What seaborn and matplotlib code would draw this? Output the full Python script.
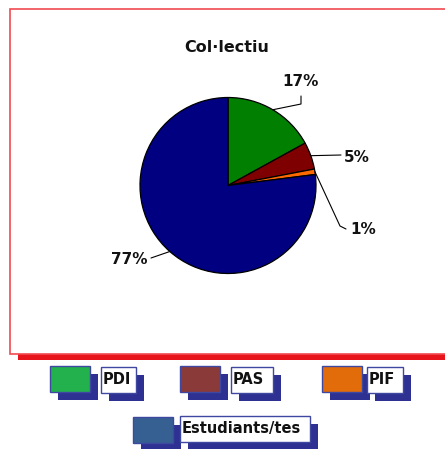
import numpy as np
import matplotlib
matplotlib.use('Agg')
import matplotlib.pyplot as plt
import seaborn as sns
from matplotlib.patches import Rectangle

sns.set_theme(style='white')
plt.rcParams['font.family'] = ['DejaVu Sans']

# data
categories = ['PDI', 'PAS', 'PIF', 'Estudiants/tes']
values = [17, 5, 1, 77]
pie_colors = ['#007f00', '#7f0000', '#ff6a00', '#000080']
legend_colors = ['#22b14c', '#8b3a3a', '#e36c0a', '#366092']
title = 'Col\u00b7lectiu'

W, H = 445, 449
fig = plt.figure(figsize=(W / 100, H / 100), dpi=100)
ax = fig.add_axes([0, 0, 1, 1])

def Y(y):
    # top-down pixel -> axes coords
    return H - y

# frame with red shadow
ax.add_patch(Rectangle((18, Y(360)), 440, 344, facecolor='#e8141b', edgecolor='none', zorder=0))
ax.add_patch(Rectangle((10, Y(354)), 440, 345, facecolor='white', edgecolor='#f04a50', lw=1.2, zorder=1))

# pie
cx, cy, r = 228, 185.5, 88
wedges, _ = ax.pie(values, colors=pie_colors, startangle=90, counterclock=False,
                   center=(cx, Y(cy)), radius=r, frame=True,
                   wedgeprops=dict(edgecolor='black', linewidth=0.9, zorder=2))
ax.set_xlim(0, W)
ax.set_ylim(0, H)
ax.set_aspect('equal')
ax.axis('off')

ax.text(227, Y(47), title, ha='center', va='center', fontsize=11.5, fontweight='bold', color='#111111', zorder=3)

# labels with leader lines (layout: text position, elbow)
label_txt = ['%d%%' % v for v in values]
text_pos = [(301, 82), (357, 157), (363, 230), (129, 259)]
elbows = [[(301, 104), (301, 96)], [(341, 155)], [(340, 226), (346, 229)], [(151, 258)]]
for w, t, tp, el in zip(wedges, label_txt, text_pos, elbows):
    a = np.deg2rad((w.theta1 + w.theta2) / 2)
    x0, y0 = cx + r * np.cos(a), cy - r * np.sin(a)
    pts = [(x0, y0)] + el
    ax.plot([p[0] for p in pts], [Y(p[1]) for p in pts], color='black', lw=0.8, zorder=3)
    ax.text(tp[0], Y(tp[1]), t, ha='center', va='center', fontsize=11, fontweight='bold', color='#111111', zorder=3)

# legend (layout in pixels)
shadow = '#2e3192'
sw_pos = [(50, 366), (180, 366), (322, 366), (133, 417)]
lb_pos = [(101, 367, 35), (231, 367, 42), (367, 367, 36), (180, 416, 130)]
for c, name, (sx, sy), (lx, ly, lw_) in zip(legend_colors, categories, sw_pos, lb_pos):
    ax.add_patch(Rectangle((sx + 8, Y(sy + 34)), 40, 26, facecolor=shadow, edgecolor='none', zorder=2))
    ax.add_patch(Rectangle((sx, Y(sy + 26)), 40, 26, facecolor=c, edgecolor='#3f48a0', lw=1, zorder=3))
    ax.add_patch(Rectangle((lx + 8, Y(ly + 34)), lw_, 26, facecolor=shadow, edgecolor='none', zorder=2))
    ax.add_patch(Rectangle((lx, Y(ly + 26)), lw_, 26, facecolor='white', edgecolor='#3f48a0', lw=1, zorder=3))
    ax.text(lx + 2, Y(ly + 13), name, ha='left', va='center', fontsize=10.5, fontweight='bold',
            color='#111111', zorder=4)

fig.savefig('out.png', dpi=100)
